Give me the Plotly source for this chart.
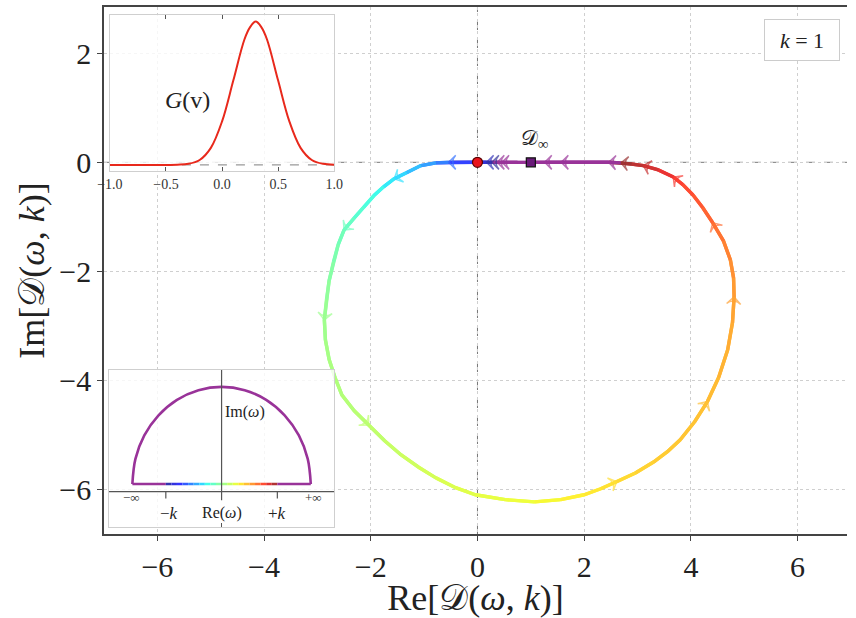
import numpy as np
import plotly.graph_objects as go

# ---------------- data ----------------
# Nyquist contour D(omega, k) traced along the real omega axis (omega/k value = curve_w)
curve_x = [1.00, 0.75, 0.46, 0.37, 0.27, 0.17, 0.00,
           -0.54, -0.78, -1.06, -1.33, -1.56, -1.76, -1.94, -2.13, -2.31, -2.50,
           -2.61, -2.70, -2.78, -2.83, -2.87, -2.85, -2.78, -2.67, -2.54, -2.31,
           -2.04, -1.74, -1.43, -1.11, -0.78, -0.41, -0.04, 0.52, 1.07, 1.56,
           2.00, 2.31, 2.61, 2.96, 3.30, 3.56, 3.80, 4.07, 4.31, 4.52,
           4.69, 4.78, 4.81, 4.80, 4.74, 4.61, 4.41, 4.22, 4.04, 3.85,
           3.67, 3.39, 3.11, 2.89, 2.69, 2.46, 2.00, 1.57, 1.26, 1.00]
curve_y = [0.00, 0.00, 0.00, 0.00, 0.00, 0.00, 0.00,
           0.00, -0.01, -0.06, -0.19, -0.30, -0.45, -0.61, -0.82, -1.02, -1.24,
           -1.51, -1.83, -2.17, -2.52, -2.89, -3.26, -3.62, -3.95, -4.27, -4.56,
           -4.82, -5.11, -5.37, -5.59, -5.79, -5.97, -6.10, -6.19, -6.23, -6.19,
           -6.10, -5.99, -5.86, -5.70, -5.50, -5.31, -5.09, -4.76, -4.39, -3.95,
           -3.44, -2.94, -2.47, -2.12, -1.79, -1.44, -1.11, -0.83, -0.60, -0.41,
           -0.27, -0.14, -0.06, -0.03, -0.01, 0.00, 0.00, 0.00, 0.00, 0.00]
curve_w = [-6, -2, -1.3, -1.1, -1.0, -0.93, -0.82,
           -0.6, -0.52, -0.44, -0.37, -0.32, -0.28, -0.24, -0.2, -0.16, -0.12,
           -0.09, -0.06, -0.03, 0.0, 0.02, 0.04, 0.06, 0.07, 0.09, 0.1,
           0.12, 0.14, 0.16, 0.18, 0.2, 0.22, 0.24, 0.26, 0.28, 0.31,
           0.33, 0.35, 0.37, 0.39, 0.41, 0.42, 0.43, 0.44, 0.45, 0.47,
           0.49, 0.51, 0.53, 0.56, 0.59, 0.63, 0.67, 0.71, 0.74, 0.77,
           0.8, 0.85, 0.9, 0.95, 1.0, 1.3, 1.8, 2.6, 4, 6]
arrow_idx = [2, 3, 4, 5, 7, 11, 16, 21, 27, 39, 45, 49, 53, 57, 59, 61, 62, 64, 65]

zero_x, zero_y = [0.0], [0.0]
dinf_x, dinf_y = [1.0], [0.0]

# inset 1: distribution G(v)
g_v = [-1.0, -0.8, -0.6, -0.4, -0.3, -0.2, -0.1, 0.0, 0.1, 0.2, 0.25, 0.3,
       0.35, 0.4, 0.5, 0.6, 0.7, 0.8, 0.9, 1.0]
g_val = [0.0, 0.0, 0.0, 0.005, 0.02, 0.09, 0.31, 0.79, 1.53, 2.28, 2.5, 2.6,
         2.5, 2.28, 1.53, 0.79, 0.31, 0.09, 0.02, 0.005]

# inset 2: integration contour in the complex omega plane
semi_x = [1.6, 1.545, 1.386, 1.131, 0.8, 0.414, 0.0, -0.414, -0.8, -1.131, -1.386, -1.545, -1.6]
semi_y = [0.136, 0.581, 0.996, 1.352, 1.626, 1.797, 1.856, 1.797, 1.626, 1.352, 0.996, 0.581, 0.136]
base_x = [-1.6, -1.0, -0.9, -0.8, -0.7, -0.6, -0.5, -0.4, -0.3, -0.2, -0.1, 0.0,
          0.1, 0.2, 0.3, 0.4, 0.5, 0.6, 0.7, 0.8, 0.9, 1.0, 1.6]
base_level = 0.136

main_ticks_x = [-6, -4, -2, 0, 2, 4, 6]
main_ticks_y = [-6, -4, -2, 0, 2]
g_ticks = [-1.0, -0.5, 0.0, 0.5, 1.0]
g_ticktext = ['\u22121.0', '\u22120.5', '0.0', '0.5', '1.0']

# ---------------- styling helpers ----------------
FONT = "Liberation Serif, DejaVu Serif, serif"
PURPLE = (128, 0, 128)
ALPHA = 0.8


def jet(t):
    r = np.interp(t, [0, 0.35, 0.66, 0.89, 1], [0, 0, 1, 1, 0.5])
    g = np.interp(t, [0, 0.125, 0.375, 0.64, 0.91, 1], [0, 0, 1, 1, 0, 0])
    b = np.interp(t, [0, 0.11, 0.34, 0.65, 1], [0.5, 1, 1, 0, 0])
    return (r * 255, g * 255, b * 255)


def wcolor(w):
    if abs(w) > 1:
        c = PURPLE
    else:
        c = jet((w + 1) / 2)
    c = [ALPHA * ci + (1 - ALPHA) * 255 for ci in c]
    return 'rgb(%d,%d,%d)' % tuple(int(round(v)) for v in c)


XR = [-7, 6.926]
YR = [-6.82, 2.85]

fig = go.Figure()

# main contour, coloured segment by segment (each trace overlaps the next point so joins stay round)
n = len(curve_x)
for i in range(n - 1):
    wm = 0.5 * (curve_w[i] + curve_w[i + 1])
    fig.add_trace(go.Scatter(x=curve_x[i:i + 3], y=curve_y[i:i + 3], mode='lines',
                             line=dict(color=wcolor(wm), width=3.4),
                             hoverinfo='skip', showlegend=False))

# direction arrows
sizes = [10 if i in arrow_idx else 0 for i in range(n)]
fig.add_trace(go.Scatter(x=curve_x, y=curve_y, mode='markers',
                         marker=dict(symbol='arrow-wide-open', size=sizes, angleref='previous',
                                     color=[wcolor(w) for w in curve_w],
                                     line=dict(width=1.5)),
                         hoverinfo='skip', showlegend=False))

fig.add_trace(go.Scatter(x=zero_x, y=zero_y, mode='markers',
                         marker=dict(symbol='circle', size=10, color='#e8141c',
                                     line=dict(color='#5a0000', width=1.2)),
                         hoverinfo='skip', showlegend=False))
fig.add_trace(go.Scatter(x=dinf_x, y=dinf_y, mode='markers',
                         marker=dict(symbol='square', size=9, color='#6a1a7a',
                                     line=dict(color='#111111', width=1.2)),
                         hoverinfo='skip', showlegend=False))

# inset 1
fig.add_trace(go.Scatter(x=g_v, y=g_val, mode='lines', xaxis='x2', yaxis='y2',
                         line=dict(color='#e8291c', width=2, shape='spline', smoothing=1.0),
                         hoverinfo='skip', showlegend=False))

# inset 2
fig.add_trace(go.Scatter(x=semi_x, y=semi_y, mode='lines', xaxis='x3', yaxis='y3',
                         line=dict(color=wcolor(5), width=2.6, shape='spline', smoothing=1.0),
                         hoverinfo='skip', showlegend=False))
for i in range(len(base_x) - 1):
    wm = 0.5 * (base_x[i] + base_x[i + 1])
    fig.add_trace(go.Scatter(x=base_x[i:i + 2], y=[base_level, base_level], mode='lines',
                             xaxis='x3', yaxis='y3',
                             line=dict(color=wcolor(wm), width=2.6),
                             hoverinfo='skip', showlegend=False))

# ---------------- layout ----------------
L, R, T, B = 104, 0, 7, 84
W, H = 856, 618
pw, ph = W - L - R, H - T - B


def fx(px):
    return (px - L) / pw


def fy(py):
    return (H - B - py) / ph


axis_common = dict(showline=True, linecolor='#444444', linewidth=1.5,
                   ticks='outside', ticklen=5, tickwidth=1.2, tickcolor='#444444',
                   showgrid=True, gridcolor='#cfcfcf', griddash='dot', gridwidth=1,
                   zeroline=False, tickfont=dict(family=FONT, size=30, color='#222222'))

inset_x = dict(showline=True, linecolor='#cfcfcf', linewidth=1, mirror=True,
               showgrid=False, zeroline=False)

fig.update_layout(
    width=W, height=H,
    margin=dict(l=L, r=R, t=T, b=B),
    paper_bgcolor='white',
    plot_bgcolor='rgba(255,255,255,0.8)',
    showlegend=False,
    font=dict(family=FONT, color='#222222'),
    xaxis=dict(range=XR, domain=[0, 1], mirror=True, tickvals=main_ticks_x,
               title=dict(text='Re[\U0001D49F(<i>\u03c9</i>, <i>k</i>)]',
                          font=dict(family=FONT, size=36), standoff=4),
               **axis_common),
    yaxis=dict(range=YR, domain=[0, 1], mirror=False, tickvals=main_ticks_y,
               title=dict(text='Im[\U0001D49F(<i>\u03c9</i>, <i>k</i>)]',
                          font=dict(family=FONT, size=36), standoff=4),
               **axis_common),
    xaxis2=dict(domain=[fx(110), fx(337)], anchor='y2', range=[-1, 1],
                ticks='inside', ticklen=4, tickcolor='#555555', tickvals=g_ticks,
                ticktext=g_ticktext, tickfont=dict(family=FONT, size=14, color='#333333'),
                **{k: v for k, v in inset_x.items() if k != 'mirror'}, mirror='ticks'),
    yaxis2=dict(domain=[fy(171), fy(15)], anchor='x2', range=[-0.11, 2.72],
                ticks='', showticklabels=False, **inset_x),
    xaxis3=dict(domain=[fx(109), fx(337)], anchor='y3', range=[-2.02, 2.02],
                ticks='inside', ticklen=4, tickcolor='#555555', tickvals=[0],
                showticklabels=False, **inset_x),
    yaxis3=dict(domain=[fy(527), fy(370)], anchor='x3', range=[-0.625, 2.154],
                ticks='', showticklabels=False, **inset_x),
)

shapes = [
    dict(type='line', xref='x', yref='y', x0=0, x1=0, y0=YR[0], y1=YR[1],
         line=dict(color='#777777', width=1, dash='dash'), layer='below'),
    dict(type='line', xref='x', yref='y', x0=-7, x1=7, y0=0, y1=0,
         line=dict(color='#777777', width=1, dash='dash'), layer='below'),
    dict(type='line', xref='x2', yref='y2', x0=-1, x1=1, y0=0, y1=0,
         line=dict(color='#999999', width=1.2, dash='dash'), layer='below'),
    dict(type='line', xref='x3', yref='y3', x0=-2.02, x1=2.02, y0=0, y1=0,
         line=dict(color='#555555', width=1.2), layer='above'),
    dict(type='line', xref='x3', yref='y3', x0=0, x1=0, y0=-0.15, y1=2.154,
         line=dict(color='#555555', width=1.2), layer='above'),
    dict(type='line', xref='x3', yref='y3', x0=-1, x1=-1, y0=0, y1=-0.12,
         line=dict(color='#555555', width=1.2), layer='above'),
    dict(type='line', xref='x3', yref='y3', x0=1, x1=1, y0=0, y1=-0.12,
         line=dict(color='#555555', width=1.2), layer='above'),
]
fig.update_layout(shapes=shapes)

ann = [
    dict(xref='x2', yref='y2', x=-0.31, y=1.18, text='<i>G</i>(v)', showarrow=False,
         font=dict(family=FONT, size=24, color='#222222')),
    dict(xref='x', yref='y', x=1.07, y=0.42, text='\U0001D49F<sub>\u221e</sub>', showarrow=False,
         font=dict(family=FONT, size=21, color='#222222')),
    dict(xref='paper', yref='paper', x=fx(810.5), y=fy(40), xanchor='center', yanchor='middle',
         text='<i>k</i> = 1', showarrow=False,
         font=dict(family=FONT, size=22, color='#222222'), bordercolor='#cccccc', borderwidth=1,
         borderpad=8, bgcolor='white', width=58, height=24),
    dict(xref='x3', yref='y3', x=-1.62, y=-0.11, text='\u2212\u221e', showarrow=False,
         font=dict(family=FONT, size=13, color='#333333')),
    dict(xref='x3', yref='y3', x=1.65, y=-0.11, text='+\u221e', showarrow=False,
         font=dict(family=FONT, size=13, color='#333333')),
    dict(xref='x3', yref='y3', x=-0.95, y=-0.38, text='\u2212<i>k</i>', showarrow=False,
         font=dict(family=FONT, size=17, color='#222222')),
    dict(xref='x3', yref='y3', x=0.0, y=-0.38, text='Re(<i>\u03c9</i>)', showarrow=False,
         font=dict(family=FONT, size=16, color='#222222')),
    dict(xref='x3', yref='y3', x=1.0, y=-0.38, text='+<i>k</i>', showarrow=False,
         font=dict(family=FONT, size=17, color='#222222')),
    dict(xref='x3', yref='y3', x=0.03, y=1.41, text='Im(<i>\u03c9</i>)', showarrow=False,
         xanchor='left', font=dict(family=FONT, size=16, color='#222222')),
]
fig.update_layout(annotations=ann)

fig.write_html("out.html")
